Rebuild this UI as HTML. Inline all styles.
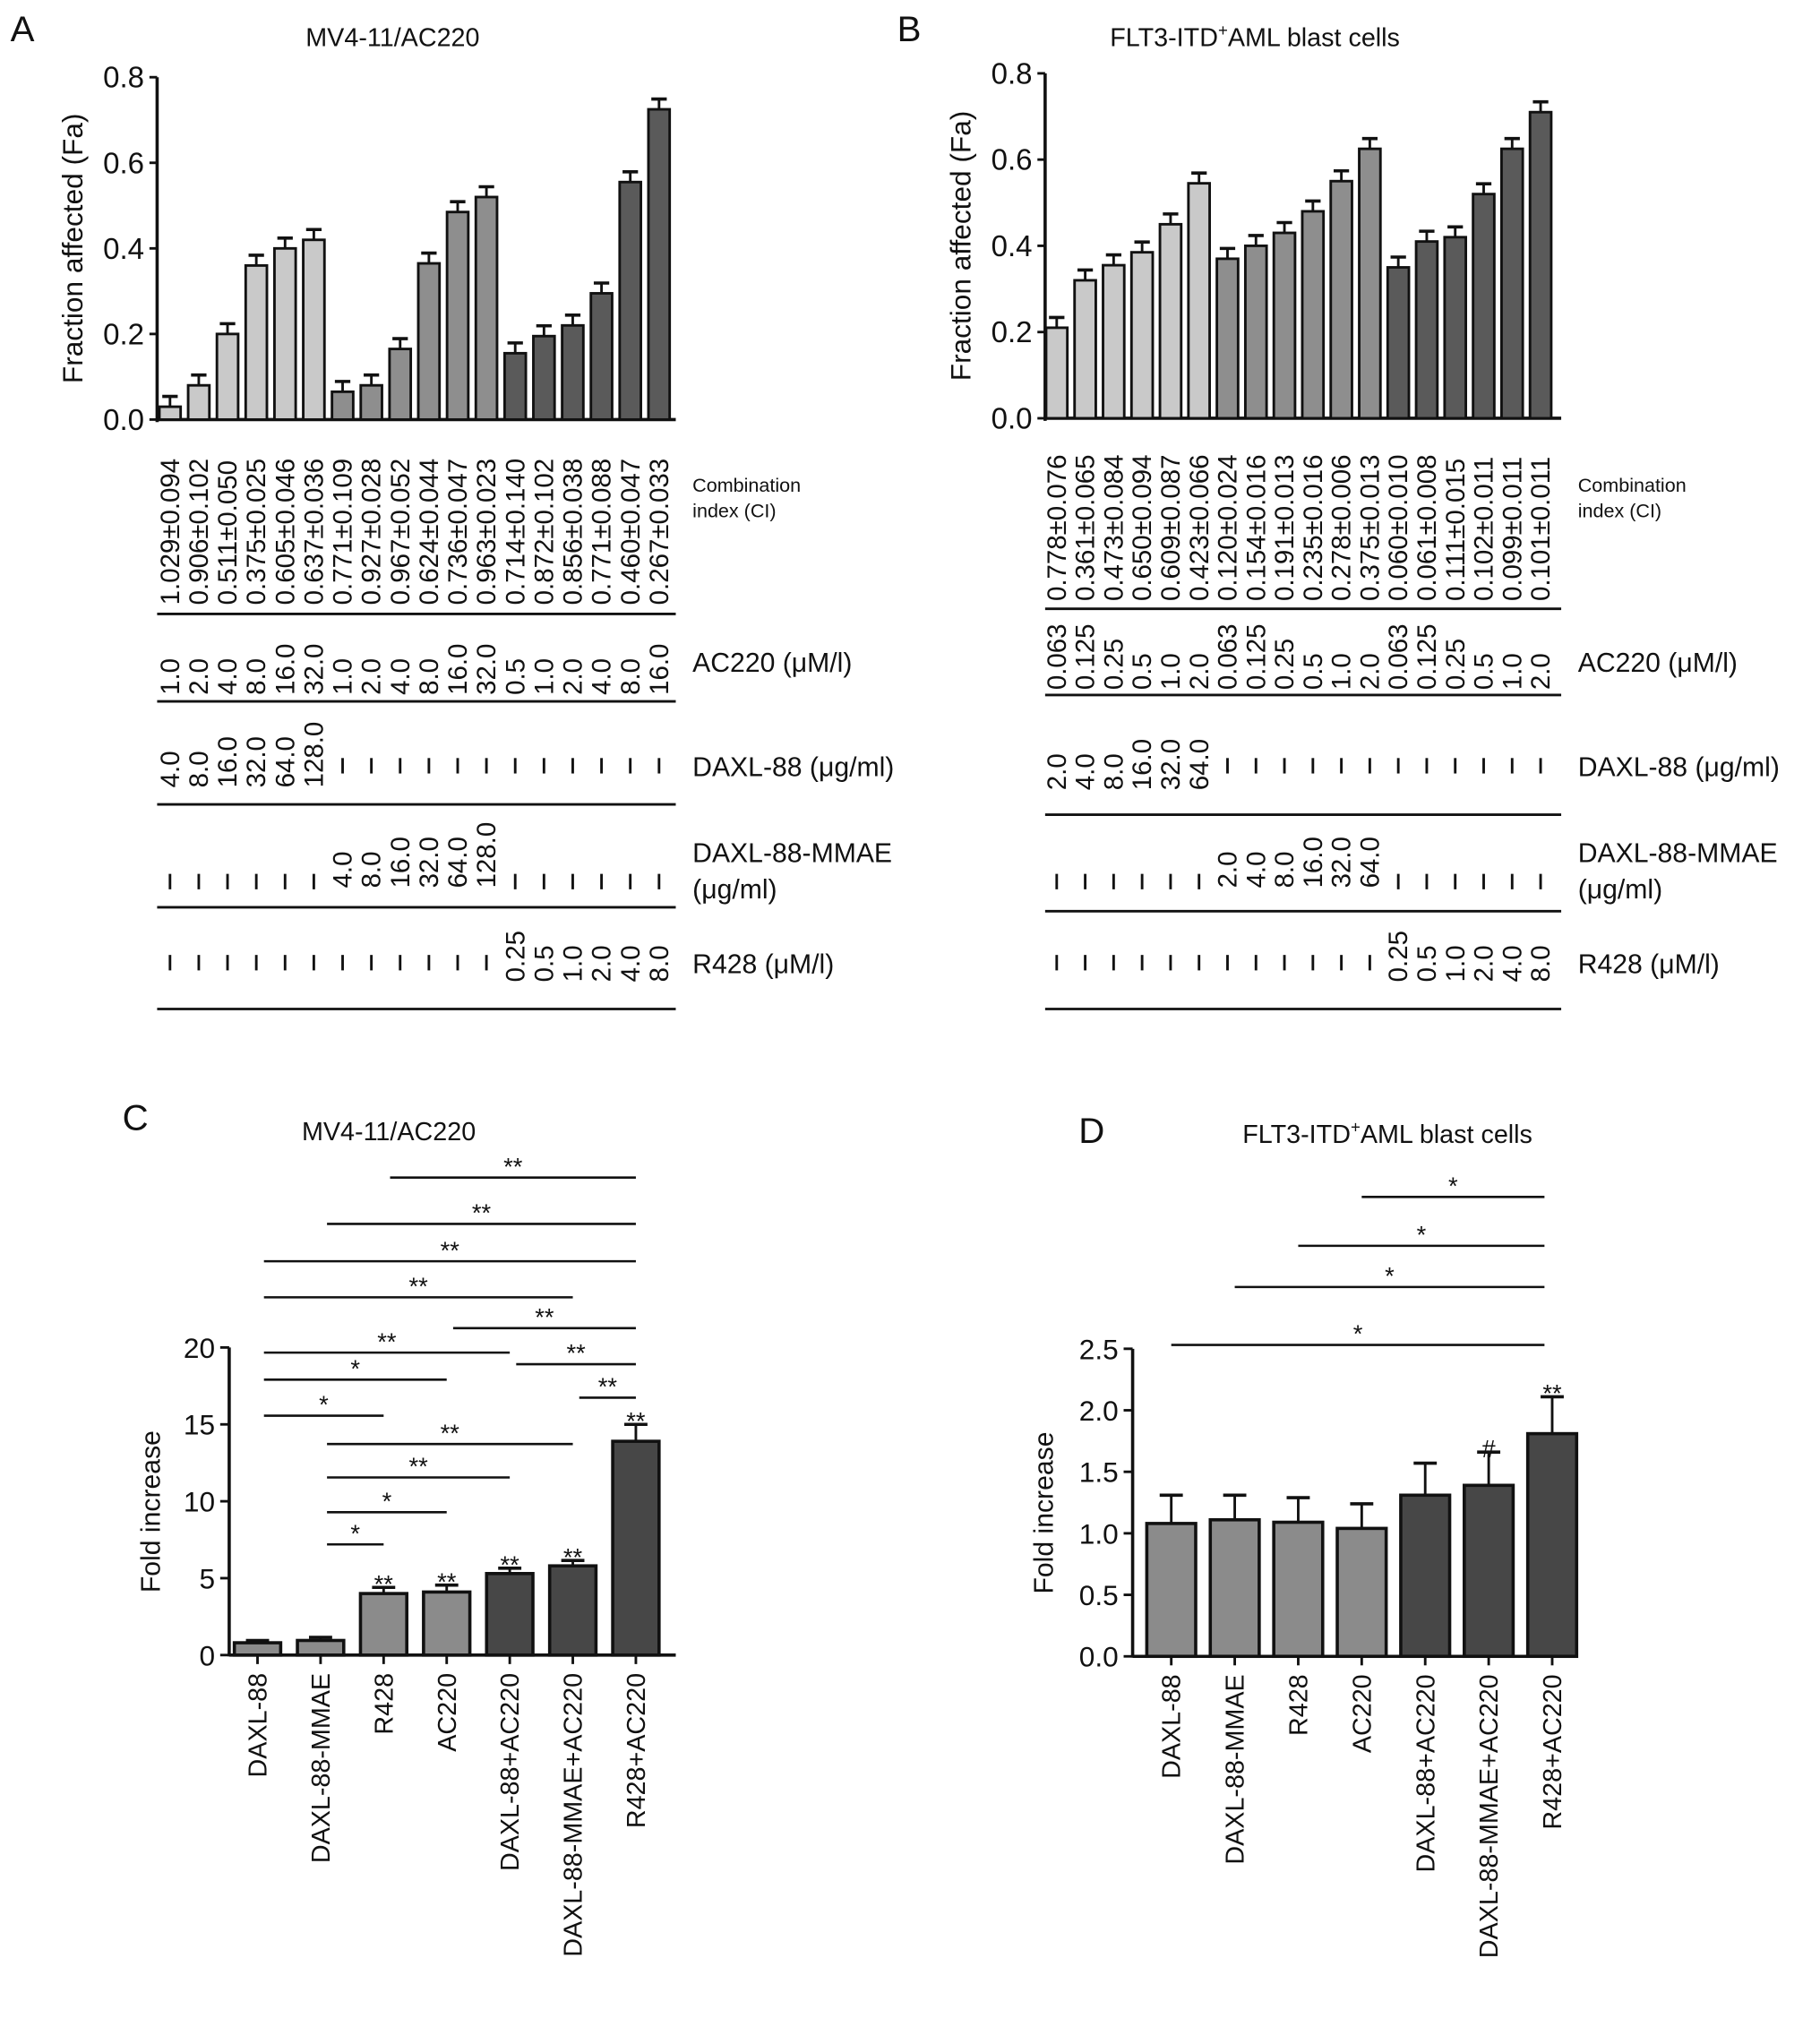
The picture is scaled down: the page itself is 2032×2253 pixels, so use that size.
<!DOCTYPE html>
<html><head><meta charset="utf-8"><style>
html,body{margin:0;padding:0;background:#fff}
svg{display:block}
text{font-family:"Liberation Sans",sans-serif;fill:#111}
</style></head><body>
<svg id="fig" xmlns="http://www.w3.org/2000/svg" width="2032" height="2253" viewBox="0 0 1414 1568"></svg>
<script>
// ---------- Data ----------
const faA = [0.03,0.08,0.20,0.36,0.40,0.42, 0.065,0.08,0.165,0.365,0.485,0.52, 0.155,0.195,0.22,0.295,0.555,0.725];
const faB = [0.21,0.32,0.355,0.385,0.45,0.545, 0.37,0.40,0.43,0.48,0.55,0.625, 0.35,0.41,0.42,0.52,0.625,0.71];
const ciA = ["1.029±0.094","0.906±0.102","0.511±0.050","0.375±0.025","0.605±0.046","0.637±0.036","0.771±0.109","0.927±0.028","0.967±0.052","0.624±0.044","0.736±0.047","0.963±0.023","0.714±0.140","0.872±0.102","0.856±0.038","0.771±0.088","0.460±0.047","0.267±0.033"];
const ciB = ["0.778±0.076","0.361±0.065","0.473±0.084","0.650±0.094","0.609±0.087","0.423±0.066","0.120±0.024","0.154±0.016","0.191±0.013","0.235±0.016","0.278±0.006","0.375±0.013","0.060±0.010","0.061±0.008","0.111±0.015","0.102±0.011","0.099±0.011","0.101±0.011"];
const acA = ["1.0","2.0","4.0","8.0","16.0","32.0","1.0","2.0","4.0","8.0","16.0","32.0","0.5","1.0","2.0","4.0","8.0","16.0"];
const acB = ["0.063","0.125","0.25","0.5","1.0","2.0","0.063","0.125","0.25","0.5","1.0","2.0","0.063","0.125","0.25","0.5","1.0","2.0"];
const daxA = ["4.0","8.0","16.0","32.0","64.0","128.0"];
const daxB = ["2.0","4.0","8.0","16.0","32.0","64.0"];
const r428 = ["0.25","0.5","1.0","2.0","4.0","8.0"];
const faTicks = ["0.0","0.2","0.4","0.6","0.8"];
const catsCD = ["DAXL-88","DAXL-88-MMAE","R428","AC220","DAXL-88+AC220","DAXL-88-MMAE+AC220","R428+AC220"];
const foldC = [0.8,0.95,4.0,4.1,5.3,5.8,13.9];
const errC = [0.15,0.2,0.4,0.45,0.35,0.35,1.1];
const foldD = [1.08,1.11,1.09,1.04,1.31,1.39,1.81];
const errD = [0.23,0.2,0.2,0.2,0.26,0.27,0.3];
const ticksC = [0,5,10,15,20];
const ticksD = ["0.0","0.5","1.0","1.5","2.0","2.5"];
const sigC = [[2,6,"**"],[1,6,"**"],[0,6,"**"],[0,5,"**"],[3,6,"**"],[0,4,"**"],[4,6,"**"],[5,6,"**"],[0,3,"*"],[0,2,"*"],[1,5,"**"],[1,4,"**"],[1,3,"*"],[1,2,"*"]];
const sigD = [[3,6,"*"],[2,6,"*"],[1,6,"*"],[0,6,"*"]];
const barMarkC = ["","","**","**","**","**","**"];
const barMarkD = ["","","","","","#","**"];

const svg = document.getElementById('fig');
const NS = "http://www.w3.org/2000/svg";
function el(tag, attrs, parent){const e=document.createElementNS(NS,tag);for(const k in attrs)e.setAttribute(k,attrs[k]);(parent||svg).appendChild(e);return e;}
function txt(s, attrs, parent){const e=el('text',attrs,parent);e.textContent=s;return e;}

function panelAB(o){
  const g=el('g',{});
  
  
  const y=v=>o.y0-(v/0.8)*(o.y0-o.y8);
  const xi=i=>o.x1+(i/17)*(o.x2-o.x1);
  let t=txt(o.letter,{x:o.lx,y:32,'font-size':28},g);
  
  t=txt(o.title,{x:o.tx,y:36,'font-size':20,'text-anchor':'middle'},g);
  
  if(o.sup){t.textContent='';const a=el('tspan',{},t);a.textContent='FLT3-ITD';const b=el('tspan',{'font-size':13,dy:-8},t);b.textContent='+';const c=el('tspan',{dy:8},t);c.textContent='AML blast cells';}
  el('line',{x1:o.ax,y1:o.y8,x2:o.ax,y2:o.y0+2,stroke:'#111','stroke-width':2.5},g);
  el('line',{x1:o.ax,y1:o.y0,x2:o.xe,y2:o.y0,stroke:'#111','stroke-width':2.5},g);
  faTicks.forEach(s=>{const yy=y(parseFloat(s));el('line',{x1:o.ax-6,y1:yy,x2:o.ax,y2:yy,stroke:'#111','stroke-width':2},g);
    const tt=txt(s,{x:o.ax-10,y:yy+8,'font-size':23,'text-anchor':'end'},g);});
  t=txt('Fraction affected (Fa)',{transform:`translate(${o.ax-58},${(o.y0+o.y8)/2}) rotate(-90)`,'font-size':22,'text-anchor':'middle'},g);
  
  const cols=['#c9c9c9','#8e8e8e','#5a5a5a'];
  o.data.forEach((v,i)=>{const cx=xi(i),w=16.5;
    el('line',{x1:cx,y1:y(v)-8,x2:cx,y2:y(v),stroke:'#111','stroke-width':2},g);
    el('line',{x1:cx-6,y1:y(v)-8,x2:cx+6,y2:y(v)-8,stroke:'#111','stroke-width':2.5},g);
    const r=el('rect',{x:cx-w/2,y:y(v),width:w,height:o.y0-y(v),fill:cols[Math.floor(i/6)],stroke:'#111','stroke-width':2},g);
    
  });
  function vtext(s,x,yb,cls){const tt=txt(s,{transform:`translate(${x+7},${yb}) rotate(-90)`,'font-size':20.5,'text-anchor':'start'},g);}
  function dash(x,yc){el('line',{x1:x,y1:yc-6,x2:x,y2:yc+6,stroke:'#111','stroke-width':2},g);}
  function hline(yy){el('line',{x1:o.ax,y1:yy,x2:o.xe,y2:yy,stroke:'#111','stroke-width':2},g);}
  o.ci.forEach((s,i)=>vtext(s,xi(i),o.ciB,'ci-label'));hline(o.ciL);
  o.ac.forEach((s,i)=>vtext(s,xi(i),o.acB,'ac220-dose'));hline(o.acL);
  for(let i=0;i<18;i++){if(i<6)vtext(o.dax[i],xi(i),o.daxB,'daxl88-dose');else dash(xi(i),595);}hline(o.daxL);
  for(let i=0;i<18;i++){if(i>=6&&i<12)vtext(o.dax[i-6],xi(i),o.mmB,'mmae-dose');else dash(xi(i),685);}hline(o.mmL);
  for(let i=0;i<18;i++){if(i>=12)vtext(r428[i-12],xi(i),763,'r428-dose');else dash(xi(i),748);}hline(784);
  const lx=o.xe+13;
  txt('Combination',{x:lx,y:382,'font-size':15},g);txt('index (CI)',{x:lx,y:402,'font-size':15},g);
  txt('AC220 (μM/l)',{x:lx,y:522,'font-size':21},g);
  txt('DAXL-88 (μg/ml)',{x:lx,y:603,'font-size':21},g);
  txt('DAXL-88-MMAE',{x:lx,y:670,'font-size':21},g);
  txt('(μg/ml)',{x:lx,y:698,'font-size':21},g);
  txt('R428 (μM/l)',{x:lx,y:756,'font-size':21},g);
}
panelAB({name:'panel-a',letter:'A',lx:8,title:'MV4-11/AC220',tx:305,ax:122,xe:525,x1:132,x2:512,y0:326,y8:60,data:faA,ci:ciA,ac:acA,dax:daxA,ciB:470,ciL:477,acB:540,acL:545,daxB:612,daxL:625,mmB:690,mmL:705});
panelAB({name:'panel-b',letter:'B',lx:697,title:'FLT3-ITD+AML blast cells',sup:true,tx:975,ax:812,xe:1213,x1:821,x2:1197,y0:325,y8:57,data:faB,ci:ciB,ac:acB,dax:daxB,ciB:467,ciL:473,acB:536,acL:540,daxB:614,daxL:633,mmB:690,mmL:708});

function panelCD(o){
  const g=el('g',{});
  
  
  const y=v=>o.y0-(v/o.max)*(o.y0-o.yt);
  const xi=i=>o.x1+i*(o.x2-o.x1)/6;
  let t=txt(o.letter,{x:o.lx,y:o.ly,'font-size':28},g);
  
  t=txt(o.title,{x:o.tx,y:o.ty,'font-size':20,'text-anchor':'middle'},g);
  
  if(o.sup){t.textContent='';const a=el('tspan',{},t);a.textContent='FLT3-ITD';const b=el('tspan',{'font-size':13,dy:-8},t);b.textContent='+';const c=el('tspan',{dy:8},t);c.textContent='AML blast cells';}
  el('line',{x1:o.ax,y1:o.yt,x2:o.ax,y2:o.y0+1,stroke:'#111','stroke-width':2.5},g);
  el('line',{x1:o.ax,y1:o.y0,x2:o.xe,y2:o.y0,stroke:'#111','stroke-width':2.5},g);
  o.ticks.forEach(s=>{const yy=y(parseFloat(s));el('line',{x1:o.ax-7,y1:yy,x2:o.ax,y2:yy,stroke:'#111','stroke-width':2},g);
    const tt=txt(String(s),{x:o.ax-11,y:yy+8,'font-size':22,'text-anchor':'end'},g);});
  t=txt('Fold increase',{transform:`translate(${o.ax+o.tOff},${(o.y0+o.yt)/2+8}) rotate(-90)`,'font-size':21,'text-anchor':'middle'},g);
  
  o.data.forEach((v,i)=>{const cx=xi(i),w=o.bw,e=o.err[i];
    el('line',{x1:cx,y1:y(v+e),x2:cx,y2:y(v),stroke:'#111','stroke-width':2},g);
    el('line',{x1:cx-9,y1:y(v+e),x2:cx+9,y2:y(v+e),stroke:'#111','stroke-width':2.5},g);
    const r=el('rect',{x:cx-w/2,y:y(v),width:w,height:o.y0-y(v),fill:i<4?'#8b8b8b':'#474747',stroke:'#111','stroke-width':2.5},g);
    
    el('line',{x1:cx,y1:o.y0,x2:cx,y2:o.y0+7,stroke:'#111','stroke-width':2},g);
    if(o.marks[i]){const m=txt(o.marks[i],{x:cx,y:y(v+e)+4,'font-size':19,'text-anchor':'middle'},g);}
    const lb=txt(catsCD[i],{transform:`translate(${cx+7},${o.y0+14}) rotate(-90)`,'font-size':20,'text-anchor':'end'},g);
    
  });
  o.sig.forEach((s,k)=>{const yy=o.sigY[k],xa=xi(s[0])+o.sOff[0],xb=xi(s[1])+o.sOff[1];
    const l=el('line',{x1:xa,y1:yy,x2:xb,y2:yy,stroke:'#111','stroke-width':1.8},g);
    
    txt(s[2],{x:(xa+xb)/2,y:yy-2,'font-size':19,'text-anchor':'middle'},g);
  });
}
panelCD({name:'panel-c',letter:'C',lx:95,ly:878,title:'MV4-11/AC220',tx:302,ty:886,ax:178,xe:525,x1:200,x2:494,bw:36,y0:1286,yt:1047,max:20,tOff:-54,ticks:ticksC,data:foldC,err:errC,marks:barMarkC,sig:sigC,
  sigY:[915,951,980,1008,1032,1051,1060,1086,1072,1100,1122,1148,1175,1200],sOff:[5,0]});
panelCD({name:'panel-d',letter:'D',lx:838,ly:888,title:'FLT3-ITD+AML blast cells',sup:true,tx:1078,ty:888,ax:880,xe:1225,x1:910,x2:1206,bw:38,y0:1287,yt:1048,max:2.5,tOff:-62,ticks:ticksD,data:foldD,err:errD,marks:barMarkD,sig:sigD,
  sigY:[930,968,1000,1045],sOff:[0,-6]});
</script>
</body></html>
